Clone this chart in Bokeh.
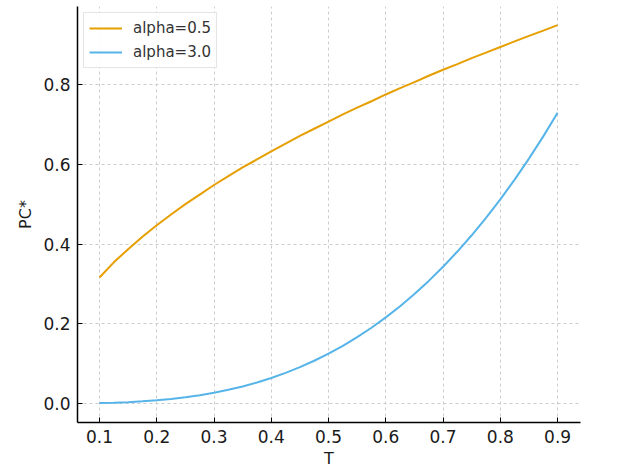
from bokeh.plotting import figure
from bokeh.models import FixedTicker, NumeralTickFormatter, Legend, LegendItem, Range1d
from bokeh.embed import file_html
from bokeh.resources import INLINE

T = [0.100, 0.125, 0.150, 0.175, 0.200, 0.225, 0.250, 0.275, 0.300, 0.325, 0.350,
     0.375, 0.400, 0.425, 0.450, 0.475, 0.500, 0.525, 0.550, 0.575, 0.600, 0.625,
     0.650, 0.675, 0.700, 0.725, 0.750, 0.775, 0.800, 0.825, 0.850, 0.875, 0.900]
pc_alpha_05 = [0.316, 0.354, 0.387, 0.418, 0.447, 0.474, 0.500, 0.524, 0.548, 0.570, 0.592,
               0.612, 0.632, 0.652, 0.671, 0.689, 0.707, 0.725, 0.742, 0.758, 0.775, 0.791,
               0.806, 0.822, 0.837, 0.851, 0.866, 0.880, 0.894, 0.908, 0.922, 0.935, 0.949]
pc_alpha_30 = [0.001, 0.002, 0.0034, 0.0054, 0.008, 0.0114, 0.0156, 0.0208, 0.027, 0.0343, 0.0429,
               0.0527, 0.064, 0.0768, 0.0911, 0.1072, 0.125, 0.1447, 0.1664, 0.1901, 0.216, 0.2441,
               0.2746, 0.3075, 0.343, 0.3811, 0.4219, 0.4655, 0.512, 0.5615, 0.6141, 0.6699, 0.729]
x_ticks = [0.1, 0.2, 0.3, 0.4, 0.5, 0.6, 0.7, 0.8, 0.9]
y_ticks = [0.0, 0.2, 0.4, 0.6, 0.8]

FONT = "DejaVu Sans"
TEXT = "#1a1a1a"

p = figure(width=640, height=473, output_backend="svg", toolbar_location=None,
           x_range=Range1d(0.0616, 0.940), y_range=Range1d(-0.0476, 0.9956),
           min_border_left=77, min_border_right=60, min_border_top=6, min_border_bottom=51)
p.outline_line_color = None
p.background_fill_color = "white"

r1 = p.line(T, pc_alpha_05, line_color="#E69F00", line_width=2)
r2 = p.line(T, pc_alpha_30, line_color="#56B4E9", line_width=2)

for ax in (p.xaxis[0], p.yaxis[0]):
    ax.axis_line_color = "black"
    ax.axis_line_width = 1.5
    ax.major_tick_in = 5
    ax.major_tick_out = 0
    ax.major_tick_line_color = "black"
    ax.minor_tick_line_color = None
    ax.major_label_text_font = FONT
    ax.major_label_text_font_size = "17px"
    ax.major_label_text_color = TEXT
    ax.axis_label_text_font = FONT
    ax.axis_label_text_font_size = "16px"
    ax.axis_label_text_font_style = "normal"
    ax.axis_label_text_color = TEXT
    ax.formatter = NumeralTickFormatter(format="0.0")

p.xaxis[0].ticker = FixedTicker(ticks=x_ticks)
p.yaxis[0].ticker = FixedTicker(ticks=y_ticks)
p.xaxis[0].axis_label = "T"
p.yaxis[0].axis_label = "PC*"
p.xaxis[0].major_label_standoff = 7
p.yaxis[0].major_label_standoff = 7
p.xaxis[0].axis_label_standoff = 3
p.yaxis[0].axis_label_standoff = 5

for g in (p.xgrid[0], p.ygrid[0]):
    g.grid_line_color = "#cccccc"
    g.grid_line_dash = "3 3"
    g.grid_line_width = 1

legend = Legend(items=[LegendItem(label="alpha=0.5", renderers=[r1]),
                       LegendItem(label="alpha=3.0", renderers=[r2])],
                location="top_left")
legend.margin = 6
legend.padding = 5
legend.spacing = 4
legend.glyph_width = 33
legend.label_standoff = 11
legend.label_text_font = FONT
legend.label_text_font_size = "15px"
legend.label_text_color = "#333333"
legend.border_line_color = "#cccccc"
legend.border_line_width = 1
legend.background_fill_alpha = 0.9
p.add_layout(legend)

open("out.html", "w").write(file_html(p, INLINE))
